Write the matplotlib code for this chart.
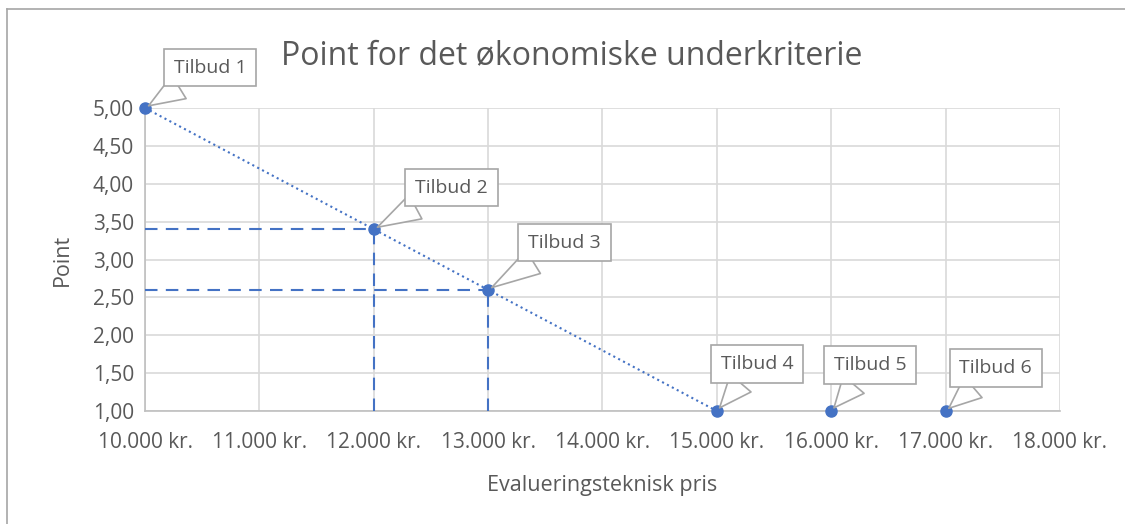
import matplotlib.pyplot as plt
from matplotlib.lines import Line2D

plt.rcParams['font.family'] = ['Open Sans', 'DejaVu Sans']

labels = ['Tilbud 1', 'Tilbud 2', 'Tilbud 3', 'Tilbud 4', 'Tilbud 5', 'Tilbud 6']
price = [10000, 12000, 13000, 15000, 16000, 17000]
points = [5.0, 3.4, 2.6, 1.0, 1.0, 1.0]
x_ticks = [10000, 11000, 12000, 13000, 14000, 15000, 16000, 17000, 18000]
y_ticks = [1.0, 1.5, 2.0, 2.5, 3.0, 3.5, 4.0, 4.5, 5.0]
# callout offsets in points
offsets = [(47, 29), (56, 30), (55, 34), (29, 34), (28, 33), (36, 31)]

blue = '#4472C4'
grey = '#595959'

fig = plt.figure(figsize=(11.25, 5.24), dpi=100)
ax = fig.add_axes([0.1289, 0.2156, 0.8133, 0.5783])

# frame of the chart area (top and left only visible)
fig.add_artist(Line2D([0.006, 1.0], [0.983, 0.983], color='#A6A6A6', lw=1.2, transform=fig.transFigure))
fig.add_artist(Line2D([0.006, 0.006], [0.0, 0.983], color='#A6A6A6', lw=1.2, transform=fig.transFigure))

ax.plot(price[:4], points[:4], linestyle=':', color=blue, lw=1.5, zorder=3)
for i in (1, 2):
    ax.plot([x_ticks[0], price[i]], [points[i], points[i]], linestyle='--', color=blue, lw=1.5, dashes=(6, 4), zorder=3)
    ax.plot([price[i], price[i]], [y_ticks[0], points[i]], linestyle='--', color=blue, lw=1.5, dashes=(6, 4), zorder=3)
ax.plot(price, points, 'o', color=blue, ms=8, zorder=4, clip_on=False)

for lab, x, y, off in zip(labels, price, points, offsets):
    ax.annotate(lab, (x, y), xytext=off, textcoords='offset points', ha='center', va='center',
                fontsize=14, color=grey, zorder=5, annotation_clip=False,
                bbox=dict(boxstyle='square,pad=0.5', fc='white', ec='#A6A6A6', lw=1.2),
                arrowprops=dict(arrowstyle='wedge,tail_width=1.4,shrink_factor=0.5', fc='white', ec='#A6A6A6', lw=1.2,
                                shrinkA=0, shrinkB=3))

ax.set_xlim(x_ticks[0], x_ticks[-1])
ax.set_ylim(y_ticks[0], y_ticks[-1])
ax.set_xticks(x_ticks)
ax.set_xticklabels([f'{v:,.0f}'.replace(',', '.') + ' kr.' for v in x_ticks])
ax.set_yticks(y_ticks)
ax.set_yticklabels([f'{v:.2f}'.replace('.', ',') for v in y_ticks])
ax.tick_params(length=0, labelsize=15, colors=grey)
ax.tick_params(axis='x', pad=15)
ax.tick_params(axis='y', pad=8)
ax.grid(True, color='#D9D9D9', lw=1.2)
ax.set_axisbelow(True)
for s in ('top', 'right'):
    ax.spines[s].set_visible(False)
for s in ('left', 'bottom'):
    ax.spines[s].set_color('#BFBFBF')
    ax.spines[s].set_linewidth(1.2)

ax.set_xlabel('Evalueringsteknisk pris', fontsize=15.5, color=grey, labelpad=16)
ax.set_ylabel('Point', fontsize=15.5, color=grey, labelpad=14)
fig.text(0.508, 0.893, 'Point for det økonomiske underkriterie', ha='center', va='center', fontsize=23, color=grey)

fig.savefig('out.png', dpi=100)
